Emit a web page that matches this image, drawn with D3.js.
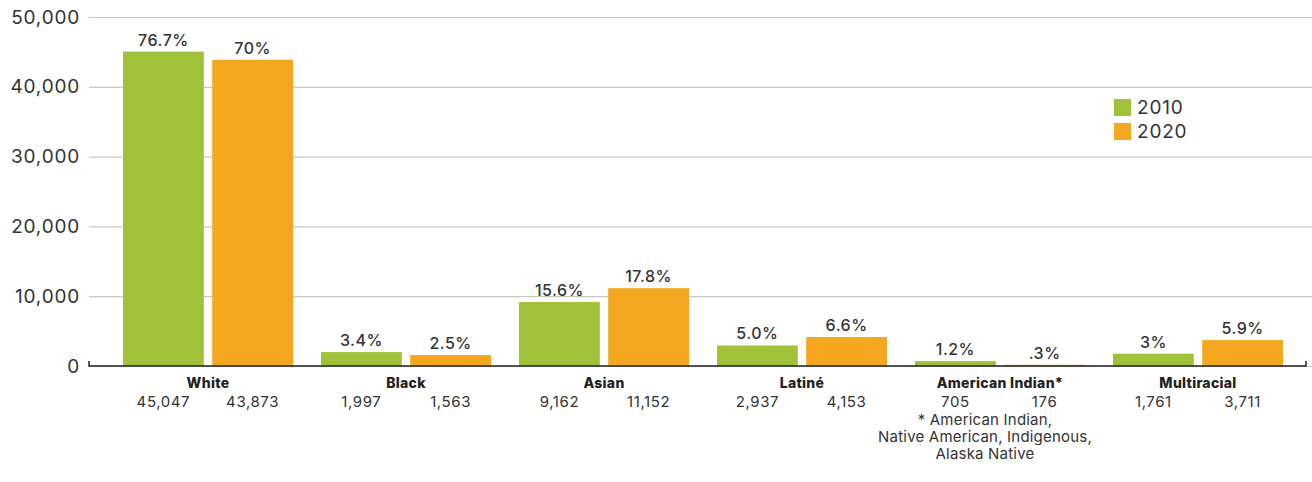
<!DOCTYPE html>
<html>
<head>
<meta charset="utf-8">
<script src="https://cdn.jsdelivr.net/npm/d3@7"></script>
<style>
  body { margin: 0; background: #fff; }
  svg text { font-family: Inter, "Open Sans", sans-serif; fill: #333; }
</style>
</head>
<body>
<svg id="chart" width="1312" height="482"></svg>
<script>
// --- data ---
const categories = ["White", "Black", "Asian", "Latiné", "American Indian*", "Multiracial"];
const years = ["2010", "2020"];
const values2010 = [45047, 1997, 9162, 2937, 705, 1761];
const values2020 = [43873, 1563, 11152, 4153, 176, 3711];
const pct2010 = ["76.7%", "3.4%", "15.6%", "5.0%", "1.2%", "3%"];
const pct2020 = ["70%", "2.5%", "17.8%", "6.6%", ".3%", "5.9%"];
const yTicks = [0, 10000, 20000, 30000, 40000, 50000];
const footnote = ["* American Indian,", "Native American, Indigenous,", "Alaska Native"];
const colors = { "2010": "#a0c23b", "2020": "#f4a81f" };

const svg = d3.select("#chart");
const plotLeft = 89, plotRight = 1306, plotTop = 17, plotBottom = 366;

const y = d3.scaleLinear().domain([0, 50000]).range([plotBottom, plotTop]);
const x0 = d3.scaleBand().domain(categories).range([109, 1297])
    .paddingInner(0.1414).paddingOuter(0.0707);
const x1 = d3.scaleBand().domain(years).range([0, x0.bandwidth()]).paddingInner(0.094);

const rows = categories.map((c, i) => ({
    cat: c,
    bars: [
        { year: "2010", value: values2010[i], pct: pct2010[i] },
        { year: "2020", value: values2020[i], pct: pct2020[i] }
    ]
}));

// gridlines + y labels
const yAxis = svg.append("g")
    .attr("transform", `translate(${plotLeft},0)`)
    .call(d3.axisLeft(y).tickValues(yTicks).tickSize(-(1312 - plotLeft)).tickFormat(d3.format(",")));
yAxis.select(".domain").remove();
yAxis.selectAll(".tick line").attr("stroke", "#c8c8c8").attr("stroke-width", 1.2);
yAxis.selectAll(".tick text")
    .attr("x", -9)
    .style("font-size", "19px")
    .style("font-weight", 400)
    .style("letter-spacing", "0.8px")
    .style("fill", "#333");

// bars
const groups = svg.append("g").selectAll("g")
    .data(rows).join("g")
    .attr("transform", d => `translate(${x0(d.cat)},0)`);

groups.selectAll("rect")
    .data(d => d.bars).join("rect")
    .attr("x", d => x1(d.year))
    .attr("width", x1.bandwidth())
    .attr("y", d => y(d.value))
    .attr("height", d => plotBottom - y(d.value))
    .attr("fill", d => colors[d.year]);

groups.selectAll("text.pct")
    .data(d => d.bars).join("text")
    .attr("class", "pct")
    .attr("x", d => x1(d.year) + x1.bandwidth() / 2)
    .attr("y", d => y(d.value) - 6)
    .attr("text-anchor", "middle")
    .style("font-size", "16px")
    .style("font-weight", 500)
    .style("letter-spacing", "0.5px")
    .text(d => d.pct);

// baseline with end ticks
svg.append("path")
    .attr("d", `M${plotLeft},${plotBottom - 5}V${plotBottom}H${plotRight}V${plotBottom - 5}`)
    .attr("fill", "none")
    .attr("stroke", "#222")
    .attr("stroke-width", 1.5);

// category labels + values under axis
groups.append("text")
    .attr("x", x0.bandwidth() / 2)
    .attr("y", 388)
    .attr("text-anchor", "middle")
    .style("font-size", "14px")
    .style("font-weight", 800)
    .style("letter-spacing", "0.3px")
    .style("fill", "#222")
    .text(d => d.cat);

groups.selectAll("text.val")
    .data(d => d.bars).join("text")
    .attr("class", "val")
    .attr("x", d => x1(d.year) + x1.bandwidth() / 2)
    .attr("y", 407)
    .attr("text-anchor", "middle")
    .style("font-size", "15px")
    .style("letter-spacing", "0.6px")
    .text(d => d3.format(",")(d.value));

// footnote under American Indian
const aiCenter = x0("American Indian*") + x0.bandwidth() / 2 - 15;
svg.append("g").selectAll("text")
    .data(footnote).join("text")
    .attr("x", aiCenter)
    .attr("y", (d, i) => 425 + i * 17)
    .attr("text-anchor", "middle")
    .style("font-size", "15px")
    .style("letter-spacing", "0.2px")
    .text(d => d);

// legend
const legend = svg.append("g").attr("transform", "translate(1114,99)");
const li = legend.selectAll("g").data(years).join("g")
    .attr("transform", (d, i) => `translate(0,${i * 24})`);
li.append("rect").attr("width", 17).attr("height", 17).attr("fill", d => colors[d]);
li.append("text").attr("x", 23).attr("y", 15)
    .style("font-size", "19px").style("font-weight", 400)
    .style("letter-spacing", "0.8px").text(d => d);
</script>
</body>
</html>
